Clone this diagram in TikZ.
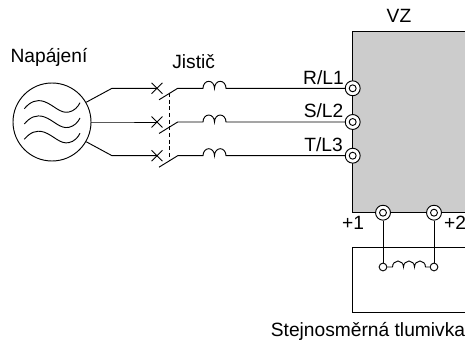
\documentclass[tikz,border=0pt]{standalone}
\usepackage{fontspec}
\setmainfont{Liberation Sans}
\usetikzlibrary{shapes.misc}
\tikzset{
  wire/.style = {line width = 0.7pt},
  lab/.style = {anchor = base, inner sep = 0pt, font = \fontsize{14.4}{16}\selectfont},
  source/.style = {draw, circle, wire, minimum size = 58.5pt, inner sep = 0pt},
  breaker/.style = {draw, cross out, wire, minimum size = 7.5pt, inner sep = 0pt},
  termout/.style = {draw, circle, wire, fill = white, minimum size = 11.2pt, inner sep = 0pt},
  termin/.style = {draw, circle, wire, fill = white, minimum size = 5.2pt, inner sep = 0pt},
  dcend/.style = {draw, circle, wire, fill = white, minimum size = 5.8pt, inner sep = 0pt}
}
\begin{document}
\begin{tikzpicture}[x = 0.75pt, y = -0.75pt]
\useasboundingbox (0,0) rectangle (465,342);
\fill [color = white] (0,0) rectangle (465,342);
\draw [fill = black!20, wire] (480,31.3) -- (352.7,31.3) -- (352.7,212.7) -- (480,212.7);
\draw [wire] (480,247.3) -- (352.5,247.3) -- (352.5,312.7) -- (480,312.7);
\node [source] (src) at (52,122) {};
\foreach \w in {0,15.3,30.6}
  \draw [wire] (24.3,108.7+\w) .. controls (30,102+\w) and (36,99+\w) .. (44,101.5+\w) .. controls (54,105+\w) and (60,114+\w) .. (69,112+\w) .. controls (74,111+\w) and (78,107+\w) .. (80,102.7+\w);
\foreach \name/\y/\ang/\text/\base in {A/88.3/30/R\slash L1/85,B/122/0/S\slash L2/118,C/155.7/-30/T\slash L3/152} {
  \coordinate (bend\name) at (112,\y);
  \node [breaker] (cross\name) at (157,\y) {};
  \coordinate (swin\name) at (159,\y+11.5);
  \coordinate (swout\name) at (177.7,\y);
  \coordinate (coilin\name) at (203,\y);
  \node [termout] (term\name) at (352.7,\y) {};
  \node [termin] at (term\name) {};
  \draw [wire] (src.\ang) -- (bend\name) -- (cross\name.center);
  \draw [wire] (swin\name) -- (swout\name) -- (coilin\name) arc (180:360:5.75 and 7) arc (180:360:5.75 and 7) -- (term\name);
  \node [lab] at (323.5,\base) {\text};
}
\coordinate (linkA) at (169.3,93);
\coordinate (linkC) at (169.3,161);
\draw [wire, dashed, dash pattern = on 3pt off 2pt] (linkA) -- (linkC);
\node [termout] (plusA) at (383,212.7) {};
\node [termin] at (plusA) {};
\node [termout] (plusB) at (434,212.7) {};
\node [termin] at (plusB) {};
\node [dcend] (dcA) at (383,267) {};
\node [dcend] (dcB) at (434,267) {};
\draw [wire] (plusA) -- (dcA);
\draw [wire] (plusB) -- (dcB);
\draw [wire] (dcA) -- (392.5,267) arc (180:360:5.5 and 6) arc (180:360:5.5 and 6) arc (180:360:5.5 and 6) -- (dcB);
\node [lab] at (49,62.7) {Napájení};
\node [lab] at (193.7,69) {Jistič};
\node [lab] at (399,23) {VZ};
\node [lab] at (353,230) {+1};
\node [lab] at (455,230) {+2};
\node [lab] at (368,336.7) {Stejnosměrná tlumivka};
\end{tikzpicture}
\end{document}
